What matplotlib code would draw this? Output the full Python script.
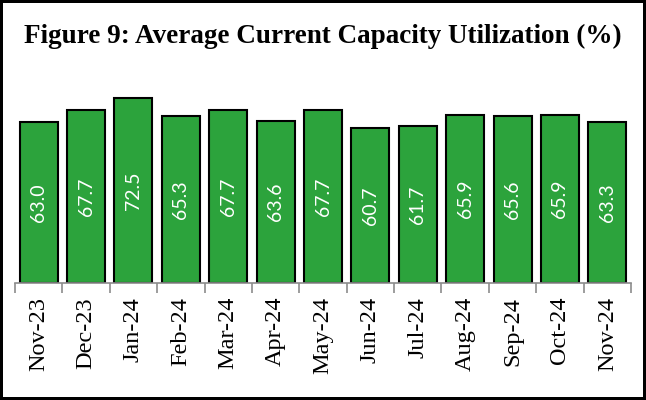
import matplotlib
matplotlib.use('Agg')
import matplotlib.pyplot as plt
import numpy as np

months = ["Nov-23", "Dec-23", "Jan-24", "Feb-24", "Mar-24", "Apr-24", "May-24",
          "Jun-24", "Jul-24", "Aug-24", "Sep-24", "Oct-24", "Nov-24"]
utilization = [63.0, 67.7, 72.5, 65.3, 67.7, 63.6, 67.7, 60.7, 61.7, 65.9, 65.6, 65.9, 63.3]

fig = plt.figure(figsize=(6.46, 4.0), dpi=100, linewidth=3, edgecolor="black")
ax = fig.add_axes([0.0232, 0.2925, 0.9536, 0.51])

x = np.arange(len(months))
bars = ax.bar(x, utilization, width=0.8, color="#2ca33c", edgecolor="black", linewidth=1.5)

for b, v in zip(bars, utilization):
    ax.text(b.get_x() + b.get_width() / 2, v / 2, f"{v:.1f}", rotation=90,
            ha="center", va="center", color="white", fontsize=14, family="Lato")

ax.set_xlim(-0.5, len(months) - 0.5)
ax.set_ylim(0, 80)
ax.set_yticks([])
for s in ["top", "left", "right"]:
    ax.spines[s].set_visible(False)
ax.spines["bottom"].set_color("#8c8c8c")
ax.spines["bottom"].set_linewidth(1.2)

ax.set_xticks(x)
ax.set_xticklabels(months, rotation=90, family="Liberation Serif", fontsize=17.5)
ax.tick_params(axis="x", which="major", length=0, pad=10)
ax.set_xticks(np.arange(len(months) + 1) - 0.5, minor=True)
ax.tick_params(axis="x", which="minor", length=7, color="#8c8c8c", width=1.2)

fig.text(0.5, 0.91, "Figure 9: Average Current Capacity Utilization (%)",
         ha="center", va="center", fontsize=19.5, fontweight="bold", family="Liberation Serif")

fig.savefig("out.png", dpi=100)
